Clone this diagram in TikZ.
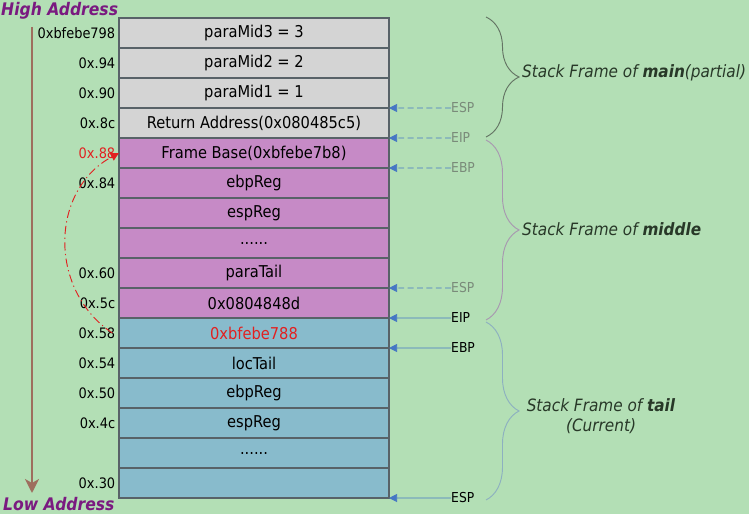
\documentclass[tikz,border=0pt]{standalone}
\usepackage{fontspec}
\setmainfont{DejaVu Sans Condensed}
\usepackage{xcolor}
\usepackage{tikz}
\usetikzlibrary{positioning}
\usetikzlibrary{arrows.meta}
\usetikzlibrary{decorations.pathreplacing}

\definecolor{bgGreen}{RGB}{179,223,181}
\definecolor{cellGray}{RGB}{212,212,212}
\definecolor{cellPurple}{RGB}{198,138,198}
\definecolor{cellBlue}{RGB}{136,187,204}
\definecolor{cellLine}{RGB}{88,98,104}
\definecolor{headPurple}{RGB}{122,26,128}
\definecolor{arrowBrown}{RGB}{158,110,94}
\definecolor{regBlue}{RGB}{70,119,196}
\definecolor{regGray}{RGB}{122,139,122}
\definecolor{frameText}{RGB}{40,56,40}
\definecolor{braceMain}{RGB}{100,116,100}
\definecolor{braceMid}{RGB}{168,152,176}
\definecolor{braceTail}{RGB}{141,176,192}
\definecolor{addrRed}{RGB}{226,32,32}

\begin{document}
\begin{tikzpicture}[x=0.03cm,y=-0.03cm,
  cell/.style={draw=cellLine, line width=1.2pt, minimum width=8.1cm, minimum height=0.9cm,
    inner sep=0pt, outer sep=0pt, font=\fontsize{13.9}{15}\selectfont},
  addr/.style={anchor=east, inner xsep=3pt, inner ysep=0pt, font=\fontsize{12.3}{14}\selectfont},
  heading/.style={anchor=west, inner sep=0pt, text=headPurple, font=\fontsize{14.8}{16}\selectfont\bfseries\itshape},
  regnow/.style={anchor=west, inner sep=0pt, font=\fontsize{11.7}{13}\selectfont},
  regold/.style={regnow, text=regGray},
  regline/.style={regBlue, line width=0.8pt, -{Triangle[length=7pt,width=7pt]}},
  regoldline/.style={regline, dash pattern=on 5pt off 3pt},
  framelabel/.style={anchor=west, inner sep=0pt, text=frameText, font=\fontsize{14.5}{17}\selectfont\itshape},
  framebrace/.style={line width=0.8pt, decorate, decoration={brace, amplitude=0.99cm}}]

\fill[bgGreen] (0,0) rectangle (749,514);

% stack cells
\node[cell, fill=cellGray] (r1) at (254,33) {paraMid3 = 3};
\node[cell, fill=cellGray, below=0pt of r1] (r2) {paraMid2 = 2};
\node[cell, fill=cellGray, below=0pt of r2] (r3) {paraMid1 = 1};
\node[cell, fill=cellGray, below=0pt of r3] (r4) {Return Address(0x080485c5)};
\node[cell, fill=cellPurple, below=0pt of r4] (r5) {Frame Base(0xbfebe7b8)};
\node[cell, fill=cellPurple, below=0pt of r5] (r6) {ebpReg};
\node[cell, fill=cellPurple, below=0pt of r6] (r7) {espReg};
\node[cell, fill=cellPurple, below=0pt of r7] (r8) {......};
\node[cell, fill=cellPurple, below=0pt of r8] (r9) {paraTail};
\node[cell, fill=cellPurple, below=0pt of r9] (r10) {0x0804848d};
\node[cell, fill=cellBlue, below=0pt of r10] (r11) {\textcolor{addrRed}{0xbfebe788}};
\node[cell, fill=cellBlue, below=0pt of r11] (r12) {locTail};
\node[cell, fill=cellBlue, below=0pt of r12] (r13) {ebpReg};
\node[cell, fill=cellBlue, below=0pt of r13] (r14) {espReg};
\node[cell, fill=cellBlue, below=0pt of r14] (r15) {......};
\node[cell, fill=cellBlue, below=0pt of r15] (r16) {};

% addresses
\node[addr] (a1) at (r1.west) {0xbfebe798};
\node[addr] (a2) at (r2.west) {0x.94};
\node[addr] (a3) at (r3.west) {0x.90};
\node[addr] (a4) at (r4.west) {0x.8c};
\node[addr, text=addrRed] (a5) at (r5.west) {0x.88};
\node[addr] (a6) at (r6.west) {0x.84};
\node[addr] (a9) at (r9.west) {0x.60};
\node[addr] (a10) at (r10.west) {0x.5c};
\node[addr] (a11) at (r11.west) {0x.58};
\node[addr] (a12) at (r12.west) {0x.54};
\node[addr] (a13) at (r13.west) {0x.50};
\node[addr] (a14) at (r14.west) {0x.4c};
\node[addr] (a16) at (r16.west) {0x.30};

% growth direction
\node[heading] (high) at (1,11) {High Address};
\node[heading] (low) at (3,504) {Low Address};
\coordinate (topend) at (32,27);
\coordinate (botend) at (32,493);
\draw[arrowBrown, line width=1.7pt, -{Stealth[length=0.42cm,width=0.42cm,inset=0.12cm]}] (topend) -- (botend);

% saved frame base
\draw[addrRed, line width=0.8pt, dash pattern=on 7pt off 3pt on 1pt off 3pt, -{Triangle[length=7pt,width=7pt]}]
  ([xshift=-0.2cm]r11.west) .. controls (48,290) and (50,190) .. (r5.west);

% registers
\node[regold] (espold) at (451,108) {ESP};
\node[regold] (eipold) at (451,138) {EIP};
\node[regold] (ebpold) at (451,168) {EBP};
\node[regold] (espmid) at (451,288) {ESP};
\node[regnow] (eipnow) at (451,318) {EIP};
\node[regnow] (ebpnow) at (451,348) {EBP};
\node[regnow] (espnow) at (451,498) {ESP};
\draw[regoldline] (espold.west) -- (r4.north east);
\draw[regoldline] (eipold.west) -- (r5.north east);
\draw[regoldline] (ebpold.west) -- (r6.north east);
\draw[regoldline] (espmid.west) -- (r10.north east);
\draw[regline] (eipnow.west) -- (r11.north east);
\draw[regline] (ebpnow.west) -- (r12.north east);
\draw[regline] (espnow.west) -- (r16.south east);

% frames
\draw[framebrace, braceMain] (486,17) -- (486,137);
\draw[framebrace, braceMid] (486,140) -- (486,320);
\draw[framebrace, braceTail] (486,322) -- (486,500);
\node[framelabel] (fmain) at (522,73) {Stack Frame of \textbf{main}(partial)};
\node[framelabel] (fmid) at (522,229) {Stack Frame of \textbf{middle}};
\node[framelabel, anchor=center, align=center] (ftail) at (601,416) {Stack Frame of \textbf{tail}\\(Current)};

\end{tikzpicture}
\end{document}
